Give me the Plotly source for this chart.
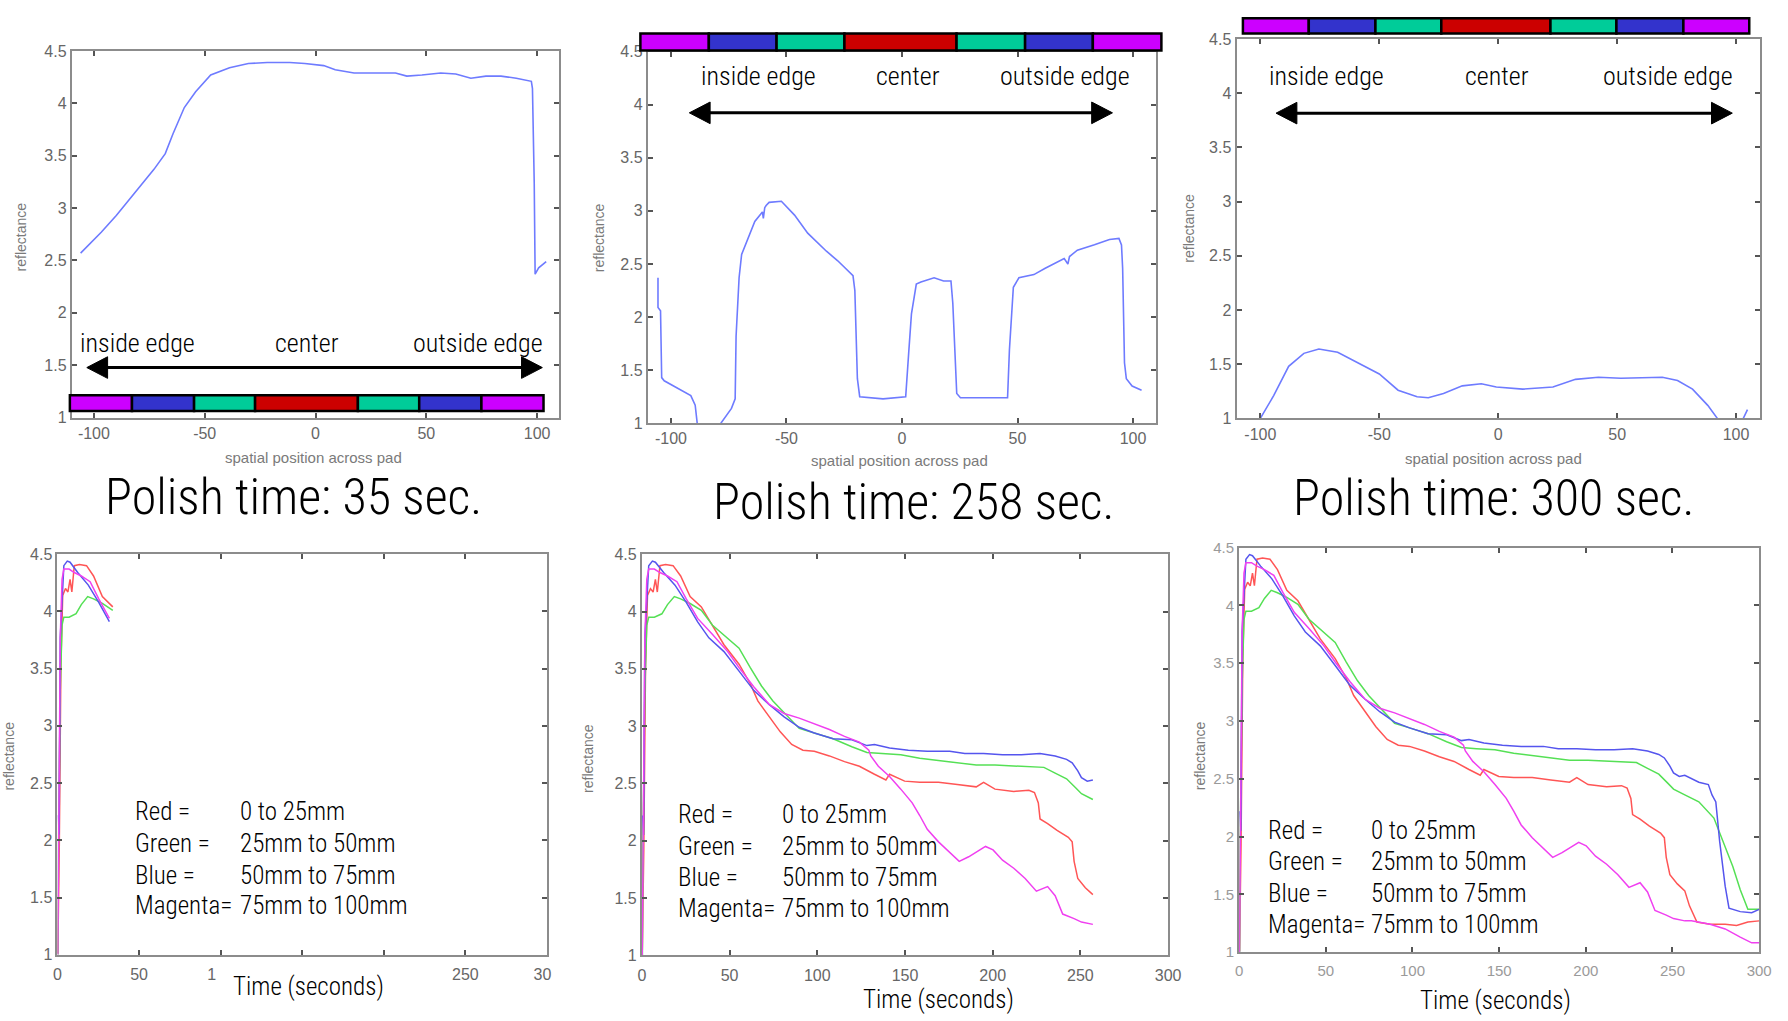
import plotly.graph_objects as go

W, H = 1788, 1021

# ---------------- data ----------------
polish_times = [35, 258, 300]

# reflectance profile across the pad after each polish time
pos_35 = [-106, -96.7, -89.9, -81.4, -72.9, -67.8, -64.3, -59.2, -54.1, -47.3, -38.8, -30.3,
          -21.8, -11.6, -4.8, 3.7, 8.9, 17.4, 36.1, 41.2, 48, 56.5, 63.3, 70.1, 76.9, 83.7,
          90.6, 97.4, 97.9, 98.7, 99.1, 100.7, 104.1]
refl_35 = [2.57, 2.77, 2.93, 3.15, 3.37, 3.52, 3.71, 3.96, 4.11, 4.27, 4.34, 4.38,
           4.39, 4.39, 4.38, 4.36, 4.32, 4.29, 4.29, 4.26, 4.27, 4.29, 4.28, 4.24, 4.26, 4.26,
           4.24, 4.21, 4.14, 3.24, 2.37, 2.43, 2.49]

pos_258 = [-105.6, -105.6, -104.5, -104, -102.9, -91.4, -89.5, -87.6, -79.5, -78.4, -73.8,
           -72.2, -71.8, -70.5, -69.4, -67.8, -63.7, -60.4, -60.0, -59.4, -58.8, -57.5, -52.2,
           -46.5, -40.8, -32.7, -27.8, -21.2, -20.4, -19.3, -18.3, -8.2, 1.6, 2.9, 4.1, 6.2,
           8.2, 13.9, 18, 21.2, 22, 23.7, 25.3, 45.7, 46.5, 48.2, 50.6, 57.1, 62, 70.2, 71.8,
           72.5, 75.9, 83.3, 89.8, 93.9, 95, 95.5, 96.3, 97.1, 99.6, 103.7]
refl_258 = [2.37, 2.09, 2.06, 1.43, 1.40, 1.26, 1.17, 0.8, 0.8, 1.0, 1.14,
            1.23, 1.82, 2.37, 2.59, 2.68, 2.90, 2.99, 2.93, 3.03, 3.05, 3.08, 3.09,
            2.96, 2.79, 2.62, 2.53, 2.39, 2.25, 1.42, 1.25, 1.23, 1.25, 1.66, 2.03, 2.31,
            2.33, 2.37, 2.34, 2.34, 2.13, 1.28, 1.24, 1.24, 1.69, 2.28, 2.37, 2.40, 2.46, 2.55, 2.50,
            2.57, 2.63, 2.68, 2.73, 2.74, 2.68, 2.46, 1.57, 1.42, 1.35, 1.31]

pos_300 = [-102, -100, -94.4, -88.1, -81.7, -75.4, -67.5, -58, -50, -42.1, -34.1, -29.4, -23,
           -15.1, -7.1, -0.8, 10.3, 23, 32.5, 42.1, 51.6, 69, 75.4, 81.7, 88.1, 92.1, 94,
           101.5, 102.4, 103.7, 104.8]
refl_300 = [0.9, 1.0, 1.21, 1.48, 1.60, 1.64, 1.61, 1.50, 1.41, 1.26, 1.20, 1.19, 1.23,
            1.30, 1.32, 1.29, 1.27, 1.29, 1.36, 1.38, 1.37, 1.38, 1.35, 1.27, 1.12, 1.0, 0.88,
            0.9, 0.97, 1.03, 1.08]

# reflectance versus time for the four radial zones
red_t = [0.2, 1.1, 2.1, 3.2, 4.9, 6.4, 7.7, 8.8, 10.3, 13.5, 17.8, 22.1, 27.5, 33.9, 38.2,
         46.8, 55.4, 61.8, 66.1, 72.5, 78.9, 85.4, 91.8, 98.3, 106.9, 115.5, 124, 132.6,
         139.1, 141.2, 149.8, 158.4, 169.1, 179.8, 190.6, 194.8, 201.3, 212, 220.6, 223.8,
         226, 227, 231.3, 236.7, 243.1, 245.3, 246.4, 248.5, 252.8, 257.1, 259.8, 264.1,
         271.7, 280.4, 287, 293.5, 300]
red_r = [1.01, 1.93, 3.54, 4.14, 4.20, 4.17, 4.28, 4.17, 4.40, 4.41, 4.40, 4.31, 4.13, 4.04,
         3.93, 3.71, 3.54, 3.37, 3.22, 3.08, 2.95, 2.84, 2.79, 2.78, 2.74, 2.69, 2.65, 2.58,
         2.53, 2.58, 2.52, 2.51, 2.51, 2.49, 2.47, 2.51, 2.45, 2.43, 2.44, 2.42, 2.33, 2.19,
         2.15, 2.09, 2.03, 1.99, 1.82, 1.67, 1.59, 1.53, 1.40, 1.26, 1.24, 1.24, 1.23, 1.26, 1.27]

green_t = [0.3, 0.6, 1.7, 2.8, 3.9, 7.1, 11.4, 14.6, 18.5, 22.1, 27.5, 33.9, 40.3, 48.9, 55.4,
           61.8, 68.2, 74.7, 81.1, 89.7, 98.3, 109, 119.7, 128.3, 136.9, 147.6, 158.4, 169.1,
           179.8, 190.6, 201.3, 212, 222.7, 229.2, 235.6, 242.1, 247.4, 250.6, 257.1, 265.2,
           273.9, 280.4, 284.8, 289.1, 293.5, 300]
green_r = [1.0, 1.96, 3.31, 3.88, 3.95, 3.95, 3.98, 4.06, 4.13, 4.11, 4.07, 4.01, 3.88, 3.77,
           3.68, 3.51, 3.35, 3.22, 3.12, 2.98, 2.94, 2.89, 2.82, 2.77, 2.76, 2.75, 2.72, 2.70,
           2.68, 2.66, 2.66, 2.65, 2.64, 2.64, 2.59, 2.54, 2.46, 2.41, 2.36, 2.30, 2.16, 1.91,
           1.74, 1.54, 1.37, 1.37]

blue_t = [0.5, 1.0, 1.7, 2.8, 3.9, 6, 7.7, 12.4, 18.9, 25.3, 31.8, 38.2, 46.8, 55.4, 63.9,
          72.5, 81.1, 89.7, 98.3, 109, 119.7, 128.3, 132.6, 141.2, 151.9, 162.7, 175.5, 184.1,
          194.8, 205.6, 216.3, 227, 235.6, 242.1, 245.3, 248.5, 250.6, 253.9, 257.1, 265.2,
          270.7, 272.8, 275, 277.2, 280.4, 282.6, 289.1, 295.7, 300]
blue_r = [2.22, 2.05, 3.77, 4.14, 4.40, 4.44, 4.43, 4.34, 4.23, 4.08, 3.91, 3.77, 3.65, 3.48,
          3.31, 3.19, 3.08, 2.99, 2.94, 2.89, 2.88, 2.83, 2.84, 2.81, 2.79, 2.78, 2.78, 2.76,
          2.76, 2.75, 2.75, 2.76, 2.74, 2.71, 2.68, 2.61, 2.55, 2.52, 2.53, 2.47, 2.45, 2.36,
          2.30, 1.96, 1.57, 1.38, 1.35, 1.34, 1.37]

magenta_t = [0.2, 0.9, 1.7, 2.8, 3.9, 7.1, 10.3, 14.6, 20, 25.3, 31.8, 40.3, 48.9, 55.4, 64,
             72.5, 81.1, 89.7, 98.3, 106.9, 115.5, 124, 129.4, 130.5, 134.8, 141.2, 147.6,
             154.1, 158.4, 162.7, 169.1, 175.5, 180.9, 186.3, 190.6, 195.9, 200.2, 205.6, 212,
             218.5, 224.9, 231.3, 235.6, 239.9, 246.4, 250.6, 257.1, 260.9, 271.7, 280.4,
             289.1, 295.7, 300]
magenta_r = [1.0, 2.33, 3.77, 4.28, 4.37, 4.37, 4.34, 4.31, 4.26, 4.11, 3.94, 3.80, 3.65,
             3.51, 3.34, 3.19, 3.11, 3.07, 3.02, 2.97, 2.91, 2.86, 2.79, 2.74, 2.65, 2.56,
             2.45, 2.33, 2.22, 2.10, 1.99, 1.90, 1.82, 1.86, 1.90, 1.95, 1.92, 1.83, 1.76,
             1.67, 1.56, 1.60, 1.52, 1.36, 1.32, 1.29, 1.27, 1.27, 1.24, 1.20, 1.13, 1.08, 1.08]

zone_labels = ["Red =", "Green =", "Blue =", "Magenta="]
zone_ranges = ["0 to 25mm", "25mm to 50mm", "50mm to 75mm", "75mm to 100mm"]
edge_labels = ["inside edge", "center", "outside edge"]
pos_ticks = [-100, -50, 0, 50, 100]
time_ticks = [0, 50, 100, 150, 200, 250, 300]
time_tick_text = ["0", "50", "100", "150", "200", "250", "300"]
# first time panel: the axis caption hides most of the middle labels, the last one is cut
time_tick_text_short = ["0", "50", "1\u2007\u2007", "", "", "250", "30\u2007"]
refl_ticks = [1, 1.5, 2, 2.5, 3, 3.5, 4, 4.5]
refl_tick_text = ["1", "1.5", "2", "2.5", "3", "3.5", "4", "4.5"]

# ---------------- styling ----------------
NARROW = "Liberation Sans Narrow, Arial Narrow, Roboto Condensed, DejaVu Sans Condensed, Liberation Sans, sans-serif"
SANS = "Liberation Sans, Arial, Helvetica, sans-serif"
PROFILE_COLOR = "#6e7bff"
ZONE_COLORS = {"red": "#ff5555", "green": "#55e055", "blue": "#5555ee", "magenta": "#f040f0"}
BAR_COLORS = ["#cc00ff", "#3333cc", "#00cc99", "#cc0000", "#00cc99", "#3333cc", "#cc00ff"]


def fx(x):
    return x / W


def fy(y):
    return 1 - y / H


# panel boxes in page pixels: (left, top, right, bottom)
top_boxes = [(68.4, 42.7, 560.6, 416.0), (650.0, 43.3, 1163.2, 421.7), (1244.4, 30.7, 1772.7, 416.7)]
bot_boxes = [(54.0, 555.0, 548.1, 962.7), (644.0, 555.0, 1175.3, 963.3), (1247.0, 548.3, 1772.0, 960.0)]

fig = go.Figure()
shapes = []
annotations = []


def axis_style(domain, rng, tickvals, ticktext, anchor, tick_color="#666666", tick_size=16,
               standoff=0):
    return dict(domain=domain, range=rng, tickvals=tickvals, ticktext=ticktext, anchor=anchor,
                showline=True, linecolor="#8c8c8c", linewidth=2, mirror="ticks",
                ticks="inside", ticklen=5, tickwidth=1.5, tickcolor="#555555",
                showgrid=False, zeroline=False, ticklabelstandoff=standoff,
                tickfont=dict(family=SANS, size=tick_size, color=tick_color))


def text(x, y, s, size, color="black", family=NARROW, xanchor="center", angle=0, weight=None, **kw):
    font = dict(family=family, size=size, color=color)
    if weight:
        font["weight"] = weight
    annotations.append(dict(x=fx(x), y=fy(y), xref="paper", yref="paper", text=s,
                            showarrow=False, xanchor=xanchor, yanchor="middle",
                            textangle=angle, font=font, **kw))


def zone_bar(edges, y0, y1):
    for i, c in enumerate(BAR_COLORS):
        shapes.append(dict(type="rect", xref="paper", yref="paper",
                           x0=fx(edges[i]), x1=fx(edges[i + 1]), y0=fy(y1), y1=fy(y0),
                           fillcolor=c, line=dict(color="black", width=2.5)))


def double_arrow(x0, x1, y, head=21, half=11):
    shapes.append(dict(type="line", xref="paper", yref="paper", x0=fx(x0 + head * 0.6),
                       x1=fx(x1 - head * 0.6), y0=fy(y), y1=fy(y), line=dict(color="black", width=3)))
    for tip, base in ((x0, x0 + head), (x1, x1 - head)):
        path = f"M {fx(tip)},{fy(y)} L {fx(base)},{fy(y - half)} L {fx(base)},{fy(y + half)} Z"
        shapes.append(dict(type="path", xref="paper", yref="paper", path=path,
                           fillcolor="black", line=dict(color="black", width=1)))


# ---------------- top row: profiles across the pad ----------------
profiles = [(pos_35, refl_35), (pos_258, refl_258), (pos_300, refl_300)]
bar_specs = [([66.5, 129.2, 191.9, 253.5, 357.3, 419.2, 482.0, 544.7], 393.3, 409.3),
             ([642.5, 711.6, 780.0, 848.5, 961.7, 1030.9, 1099.3, 1168.5], 25.0, 42.3),
             ([1250.8, 1317.3, 1384.6, 1451.1, 1561.3, 1627.9, 1695.5, 1762.0], 9.3, 25.0)]
edge_text_pos = [([134.9, 306.0, 478.9], 340.0), ([762.2, 912.3, 1070.8], 68.3),
                 ([1335.6, 1507.4, 1680.3], 68.3)]
arrow_pos = [(83.6, 543.5, 365.0), (691.9, 1119.1, 105.7), (1284.3, 1744.9, 106.0)]
xlabel_pos = [(312.0, 456.7), (903.6, 460.0), (1504.3, 458.0)]
ylabel_pos = [(17.0, 231.7), (601.0, 233.0), (1196.0, 223.0)]
title_pos = [(292.0, 497.0), (918.5, 501.5), (1504.6, 498.0)]

layout_axes = {}
for i, ((xs, ys), box) in enumerate(zip(profiles, top_boxes)):
    n = i + 1
    xa, ya = f"x{n}", f"y{n}"
    fig.add_trace(go.Scatter(x=xs, y=ys, mode="lines", xaxis=xa, yaxis=ya,
                             line=dict(color=PROFILE_COLOR, width=1.6), showlegend=False))
    l, t, r, b = box
    layout_axes[f"xaxis{n}"] = axis_style([fx(l), fx(r)], [-110, 110], pos_ticks,
                                          [str(v) for v in pos_ticks], ya)
    layout_axes[f"yaxis{n}"] = axis_style([fy(b), fy(t)], [1, 4.5], refl_ticks, refl_tick_text, xa)
    edges, by0, by1 = bar_specs[i]
    zone_bar(edges, by0, by1)
    xs_t, yt = edge_text_pos[i]
    for xv, s in zip(xs_t, edge_labels):
        text(xv, yt, s, 26, weight=300)
    double_arrow(*arrow_pos[i])
    text(*xlabel_pos[i], "spatial position across pad", 15, color="#7a7a7a", family=SANS)
    text(*ylabel_pos[i], "reflectance", 14, color="#7a7a7a", family=SANS, angle=-90)
    text(*title_pos[i], f"Polish time: {polish_times[i]} sec.", 50, weight=300)

# ---------------- bottom row: zone reflectance versus time ----------------
zones = [("red", red_t, red_r), ("green", green_t, green_r),
         ("blue", blue_t, blue_r), ("magenta", magenta_t, magenta_r)]
legend_pos = [(130.0, 236.0, [816.7, 849.3, 881.7, 912.7]),
              (678.2, 783.0, [820.0, 852.7, 884.0, 916.0]),
              (1274.0, 1378.0, [836.7, 868.3, 900.0, 931.7])]
time_label_pos = [(307.0, 995.0), (943.5, 1008.0), (1505.5, 1009.0)]
ylabel_bot = [(5.0, 760.0), (589.0, 763.0), (1207.0, 760.0)]

for i, (T, box) in enumerate(zip(polish_times, bot_boxes)):
    n = i + 4
    xa, ya = f"x{n}", f"y{n}"
    for name, ts, rs in zones:
        keep = [k for k, tv in enumerate(ts) if tv <= T]
        fig.add_trace(go.Scatter(x=[ts[k] for k in keep], y=[rs[k] for k in keep], mode="lines",
                                 xaxis=xa, yaxis=ya, showlegend=False,
                                 line=dict(color=ZONE_COLORS[name], width=1.5)))
    l, t, r, b = box
    faded = i == 2
    tc = "#9a9a9a" if faded else "#666666"
    ts_ = 15 if faded else 16
    ttext = time_tick_text_short if i == 0 else time_tick_text
    layout_axes[f"xaxis{n}"] = axis_style([fx(l), fx(r)], [0, 300], time_ticks, ttext,
                                          ya, tc, ts_, standoff=4)
    layout_axes[f"yaxis{n}"] = axis_style([fy(b), fy(t)], [1, 4.5], refl_ticks, refl_tick_text,
                                          xa, tc, ts_)
    lx, rx, ys = legend_pos[i]
    for lab, rng, yv in zip(zone_labels, zone_ranges, ys):
        text(lx, yv, lab, 25, xanchor="left", weight=300)
        text(rx, yv, rng, 25, xanchor="left", weight=300)
    tx, ty = time_label_pos[i]
    text(tx, ty, "Time (seconds)", 25, weight=300)
    text(*ylabel_bot[i], "reflectance", 14, color="#7a7a7a", family=SANS, angle=-90)

fig.update_layout(width=W, height=H, margin=dict(l=0, r=0, t=0, b=0),
                  paper_bgcolor="white", plot_bgcolor="white",
                  shapes=shapes, annotations=annotations, **layout_axes)

fig.write_html("out.html")
